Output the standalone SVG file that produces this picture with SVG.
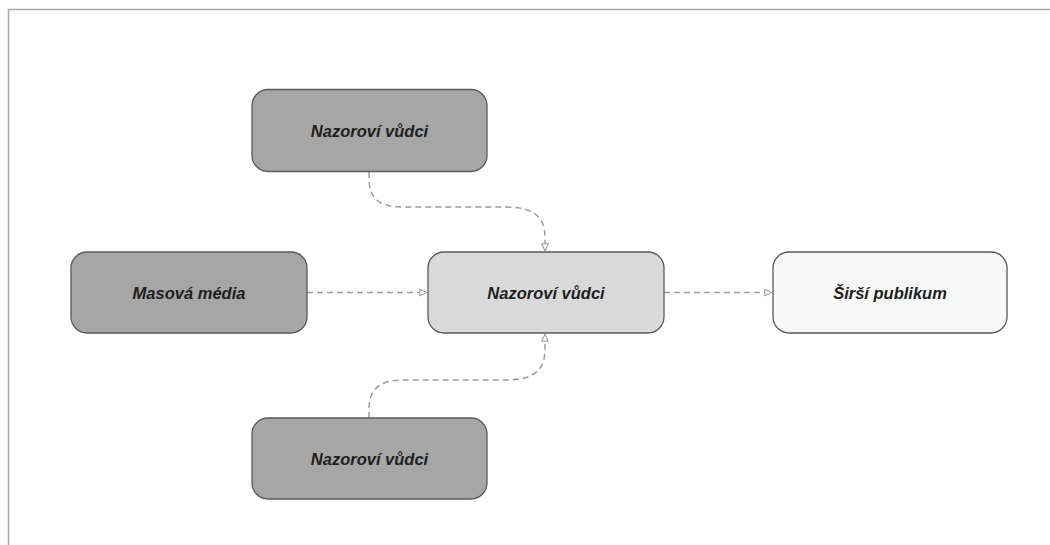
<svg xmlns="http://www.w3.org/2000/svg" width="1050" height="545" viewBox="0 0 1050 545">
<style>
.node{stroke:#5a5a5a;stroke-width:1.3}
.dark{fill:#a6a6a6}
.mid{fill:#d9d9d9}
.light{fill:#f7f7f7}
.lbl{font-family:"Liberation Sans",Arial,sans-serif;font-size:16.5px;font-weight:bold;font-style:italic;fill:#1e1e1e;text-anchor:middle;dominant-baseline:central}
.edge{fill:none;stroke:#9a9a9a;stroke-width:1.5;stroke-dasharray:6 4}
</style>
<defs>
<marker id="arr" viewBox="0 0 10 10" refX="10" refY="5" markerWidth="8" markerHeight="8" markerUnits="userSpaceOnUse" orient="auto">
<path d="M1,1 L10,5 L1,9 Z" fill="#fff" stroke="#9a9a9a" stroke-width="1.3"/>
</marker>
</defs>
<rect x="0" y="0" width="1050" height="545" fill="#fff"/>
<path d="M8.5,545 L8.5,9.5 L1050,9.5" fill="none" stroke="#aaa" stroke-width="1.5"/>
<g id="connectors">
<path class="edge" d="M369,172 L369,178 C369,200 380,207 405,207 L505,207 C532,207 545,215 545,238 L545,251" marker-end="url(#arr)"/>
<path class="edge" d="M369,418 L369,410 C369,388 380,380 405,380 L505,380 C532,380 545,372 545,349 L545,334" marker-end="url(#arr)"/>
<path class="edge" d="M307,292.5 L427,292.5" marker-end="url(#arr)"/>
<path class="edge" d="M664,292.5 L772,292.5" marker-end="url(#arr)"/>
</g>
<g id="node-top">
<rect class="node dark" x="252" y="89.5" width="235" height="82" rx="16"/>
<text class="lbl" x="369.5" y="130.5">Nazoroví vůdci</text>
</g>
<g id="node-media">
<rect class="node dark" x="71" y="252" width="236" height="81" rx="16"/>
<text class="lbl" x="189" y="292.5">Masová média</text>
</g>
<g id="node-center">
<rect class="node mid" x="428" y="252" width="236" height="81" rx="16"/>
<text class="lbl" x="546" y="292.5">Nazoroví vůdci</text>
</g>
<g id="node-public">
<rect class="node light" x="773" y="252" width="234" height="81" rx="16"/>
<text class="lbl" x="890" y="292.5">Širší publikum</text>
</g>
<g id="node-bottom">
<rect class="node dark" x="252" y="418" width="235" height="81" rx="16"/>
<text class="lbl" x="369.5" y="458.5">Nazoroví vůdci</text>
</g>
</svg>
